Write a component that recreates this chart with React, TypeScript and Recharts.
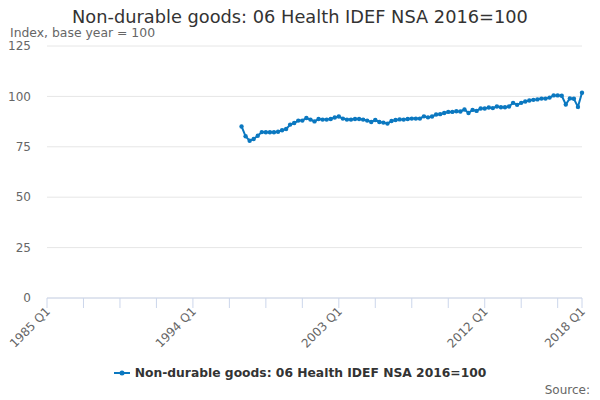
import React from "react";
import { LineChart, Line, XAxis, YAxis, CartesianGrid, Legend } from "recharts";

const FONT = '"DejaVu Sans", sans-serif';
const LINE_COLOR = "#0b78c0";

const title = "Non-durable goods: 06 Health IDEF NSA 2016=100";
const subtitle = "Index, base year = 100";
const seriesName = "Non-durable goods: 06 Health IDEF NSA 2016=100";

// quarterly categories 1985 Q1 .. 2018 Q1
const firstYear = 1985;
const lastYear = 2018;
const quarters: string[] = [];
for (let y = firstYear; y <= lastYear; y++) {
  for (let q = 1; q <= 4; q++) {
    if (y === lastYear && q > 1) break;
    quarters.push(`${y} Q${q}`);
  }
}

// series starts at 1997 Q1
const seriesStart = "1997 Q1";
const values = [
  85.1, 80.2, 78.0, 78.9, // 1997
  80.5, 82.3, 82.2, 82.2, // 1998
  82.2, 82.5, 83.2, 83.8, // 1999
  86.0, 86.8, 88.0, 88.0, // 2000
  89.3, 88.5, 87.6, 88.8, // 2001
  88.5, 88.5, 88.8, 89.5, // 2002
  90.0, 89.0, 88.5, 88.5, // 2003
  88.8, 88.8, 88.5, 88.0, // 2004
  87.3, 88.3, 87.3, 87.0, // 2005
  86.5, 87.8, 88.3, 88.6, // 2006
  88.5, 88.8, 89.0, 89.0, // 2007
  89.0, 90.1, 89.6, 90.0, // 2008
  91.0, 91.2, 91.8, 92.3, // 2009
  92.3, 92.6, 92.5, 93.5, // 2010
  91.8, 93.3, 92.8, 94.0, // 2011
  94.0, 94.5, 94.2, 95.0, // 2012
  94.6, 94.6, 95.0, 96.8, // 2013
  95.8, 96.8, 97.5, 98.0, // 2014
  98.3, 98.5, 98.9, 98.9, // 2015
  99.4, 100.5, 100.5, 100.3, // 2016
  96.0, 99.0, 98.8, 94.8, // 2017
  101.8, // 2018 Q1
];

const yTicks = [0, 25, 50, 75, 100, 125];
const xTicks = [
  "1985 Q1", "1987 Q2", "1989 Q3", "1991 Q4", "1994 Q1", "1996 Q2", "1998 Q3",
  "2000 Q4", "2003 Q1", "2005 Q2", "2007 Q3", "2009 Q4", "2012 Q1", "2014 Q2",
  "2016 Q3", "2018 Q1",
];
const xLabels = ["1985 Q1", "1994 Q1", "2003 Q1", "2012 Q1", "2018 Q1"];

const startIdx = quarters.indexOf(seriesStart);
const data = quarters.map((q, i) => ({
  q,
  v: i >= startIdx && i - startIdx < values.length ? values[i - startIdx] : null,
}));

const XTick = (props: any) => {
  const { x, y, payload } = props;
  if (!xLabels.includes(payload.value)) return <g />;
  const ax = x + 4;
  const ay = y + 2;
  return (
    <text
      x={ax}
      y={ay}
      textAnchor="end"
      fill="#666666"
      fontSize={12}
      fontFamily={FONT}
      transform={`rotate(-45 ${ax} ${ay})`}
    >
      {payload.value}
    </text>
  );
};

const LegendContent = () => (
  <div
    style={{
      display: "flex",
      justifyContent: "center",
      alignItems: "center",
      fontFamily: FONT,
      fontSize: 12.3,
      fontWeight: "bold",
      color: "#333333",
    }}
  >
    <svg width={16} height={12}>
      <line x1={0} y1={6} x2={16} y2={6} stroke={LINE_COLOR} strokeWidth={2} />
      <circle cx={8} cy={6} r={2.5} fill={LINE_COLOR} />
    </svg>
    <span style={{ marginLeft: 5 }}>{seriesName}</span>
  </div>
);

export default function App() {
  return (
    <div style={{ position: "absolute", left: 0, top: 0, width: 600, height: 400, background: "#fff" }}>
      <div
        style={{
          position: "absolute",
          top: 6,
          left: 0,
          width: 600,
          textAlign: "center",
          fontFamily: FONT,
          fontSize: 17.8,
          color: "#333333",
          whiteSpace: "nowrap",
        }}
      >
        {title}
      </div>
      <div
        style={{
          position: "absolute",
          top: 25,
          left: 10,
          fontFamily: FONT,
          fontSize: 12.4,
          color: "#666666",
          whiteSpace: "nowrap",
        }}
      >
        {subtitle}
      </div>
      <LineChart width={600} height={400} data={data} margin={{ top: 46, right: 18, bottom: 72, left: 0 }}>
        <CartesianGrid vertical={false} stroke="#e6e6e6" />
        <XAxis
          dataKey="q"
          ticks={xTicks}
          interval={0}
          tick={<XTick />}
          tickSize={10}
          height={30}
          tickLine={{ stroke: "#ccd6eb" }}
          axisLine={{ stroke: "#ccd6eb" }}
        />
        <YAxis
          width={47}
          domain={[0, 125]}
          ticks={yTicks}
          axisLine={false}
          tickLine={false}
          tickMargin={10}
          tick={{ fill: "#666666", fontSize: 12, fontFamily: FONT }}
        />
        <Legend
          verticalAlign="middle"
          content={<LegendContent />}
          wrapperStyle={{ top: 366, left: 0, width: 600 }}
        />
        <Line
          type="linear"
          dataKey="v"
          name={seriesName}
          stroke={LINE_COLOR}
          strokeWidth={2}
          dot={{ r: 2.2, fill: LINE_COLOR, stroke: LINE_COLOR, strokeWidth: 0 }}
          activeDot={false}
          isAnimationActive={false}
        />
      </LineChart>
      <div
        style={{
          position: "absolute",
          top: 383,
          right: 10,
          fontFamily: FONT,
          fontSize: 12,
          color: "#666666",
        }}
      >
        Source:
      </div>
    </div>
  );
}
